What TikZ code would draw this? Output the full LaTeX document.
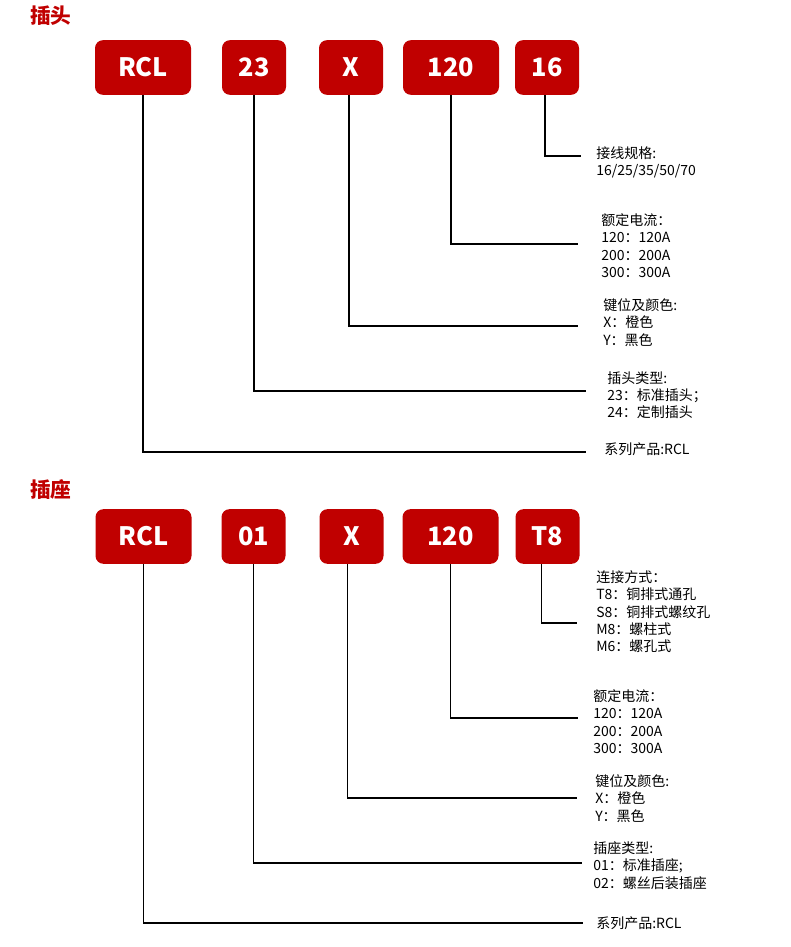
\documentclass[tikz,border=0pt]{standalone}
\usepackage{fontspec}
\setmainfont{Noto Sans CJK SC}
\definecolor{plugred}{RGB}{192,0,0}

\begin{document}
\begin{tikzpicture}[x=0.75pt,y=-0.75pt,
  codebox/.style={fill=plugred, rounded corners=6pt, minimum height=41pt, minimum width=48pt, inner sep=0pt, text=white, font=\fontsize{19}{22}\selectfont\bfseries},
  widebox/.style={codebox, minimum width=72pt},
  spec/.style={anchor=north west, align=left, inner sep=0pt, font=\fontsize{10.5}{13.1}\selectfont},
  title/.style={text=plugred, font=\fontsize{15.5}{18}\selectfont\bfseries},
  lead/.style={line width=1.1pt}]
\useasboundingbox (0,0) rectangle (791,947);

% Plug
\node[title] (plugTitle) at (51,16) {插头};
\node[widebox] (pRCL) at (143,67.5) {RCL};
\node[codebox] (p23) at (254,67.5) {23};
\node[codebox] (pX) at (351,67.5) {X};
\node[widebox] (p120) at (451,67.5) {120};
\node[codebox] (p16) at (547,67.5) {16};

\node[spec] (l16) at (596,146) {接线规格:\\16/25/35/50/70};
\node[spec] (l120) at (601,213) {额定电流：\\120：120A\\200：200A\\300：300A};
\node[spec] (lX) at (603,298) {键位及颜色:\\X：橙色\\Y：黑色};
\node[spec] (l23) at (607,371) {插头类型:\\23：标准插头；\\24：定制插头};
\node[spec] (lRCL) at (604,442) {系列产品:RCL};

\coordinate (e16) at (581,156);
\coordinate (e120) at (578,244);
\coordinate (eX) at (578,326);
\coordinate (e23) at (586,391);
\coordinate (eRCL) at (586,452);

\draw[lead] ([xshift=-1.5pt]p16.south) |- (e16);
\draw[lead] (p120.south) |- (e120);
\draw[lead] ([xshift=-1.5pt]pX.south) |- (eX);
\draw[lead] (p23.south) |- (e23);
\draw[lead] (pRCL.south) |- (eRCL);

% Socket
\node[title] (sockTitle) at (51,490) {插座};
\node[widebox] (sRCL) at (143.5,536.5) {RCL};
\node[codebox] (s01) at (253.5,536.5) {01};
\node[codebox] (sX) at (351.5,536.5) {X};
\node[widebox] (s120) at (450.5,536.5) {120};
\node[codebox] (sT8) at (547.5,536.5) {T8};

\node[spec] (lT8) at (596,570) {连接方式：\\T8：铜排式通孔\\S8：铜排式螺纹孔\\M8：螺柱式\\M6：螺孔式};
\node[spec] (ls120) at (593,689) {额定电流：\\120：120A\\200：200A\\300：300A};
\node[spec] (lsX) at (595,774) {键位及颜色:\\X：橙色\\Y：黑色};
\node[spec] (l01) at (593,841) {插座类型:\\01：标准插座;\\02：螺丝后装插座};
\node[spec] (lsRCL) at (596,916) {系列产品:RCL};

\coordinate (eT8) at (577,623);
\coordinate (es120) at (578,718);
\coordinate (esX) at (577,798);
\coordinate (e01) at (582,863);
\coordinate (esRCL) at (583,923);

\draw[lead] ([xshift=-4.5pt]sT8.south) |- (eT8);
\draw[lead] (s120.south) |- (es120);
\draw[lead] ([xshift=-3pt]sX.south) |- (esX);
\draw[lead] (s01.south) |- (e01);
\draw[lead] (sRCL.south) |- (esRCL);
\end{tikzpicture}
\end{document}
